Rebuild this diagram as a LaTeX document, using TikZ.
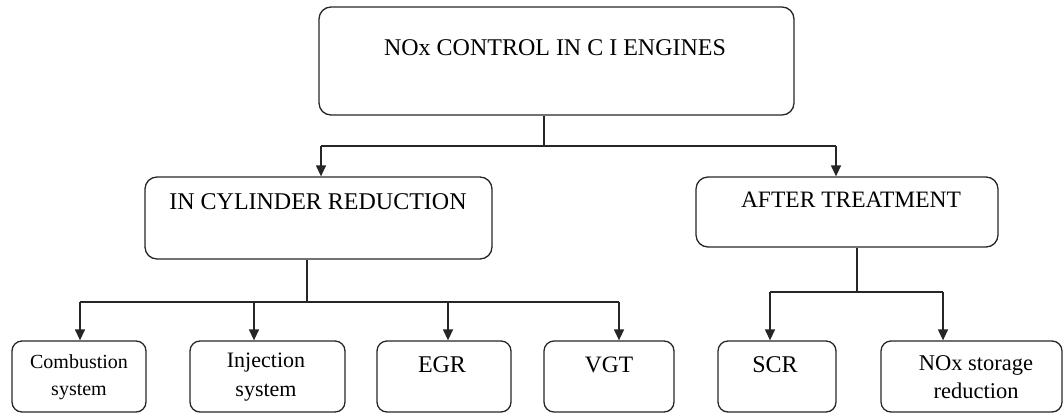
\documentclass[tikz,border=0pt]{standalone}
\usepackage{fontspec}
\setmainfont{Liberation Serif}
\usetikzlibrary{arrows.meta}
\begin{document}
\begin{tikzpicture}[x=1pt,y=-1pt,
  box/.style={draw=black!85,line width=1.3pt,rounded corners=12pt,inner sep=0pt},
  sbox/.style={draw=black!85,line width=1.3pt,rounded corners=10pt,inner sep=0pt,minimum height=71pt},
  txt/.style={inner sep=0pt,text=black,align=center},
  conn/.style={draw=black!85,line width=1.3pt},
  arr/.style={conn,-{Triangle[length=11pt,width=10pt]}}]
\useasboundingbox (0,0) rectangle (1064,415);
% boxes
\node[box,minimum width=475pt,minimum height=108pt] (top) at (556.5,61) {};
\node[box,minimum width=347pt,minimum height=82pt] (icr) at (318.5,218) {};
\node[box,minimum width=302pt,minimum height=70pt] (at) at (847,212) {};
\node[sbox,minimum width=134pt] (comb) at (79,376.5) {};
\node[sbox,minimum width=155pt] (inj) at (267.5,376.5) {};
\node[sbox,minimum width=134pt] (egr) at (444,376.5) {};
\node[sbox,minimum width=130pt] (vgt) at (609,376.5) {};
\node[sbox,minimum width=118pt] (scr) at (777,376.5) {};
\node[sbox,minimum width=181pt] (nsr) at (971.5,376.5) {};
% texts
\node[txt,font=\fontsize{24}{28}\selectfont] (ttop) at (555,48) {NOx CONTROL IN C I ENGINES};
\node[txt,font=\fontsize{24}{28}\selectfont] (ticr) at (318,202) {IN CYLINDER REDUCTION};
\node[txt,font=\fontsize{23.5}{28}\selectfont] (tat) at (851,200) {AFTER TREATMENT};
\node[txt,font=\fontsize{20}{27}\selectfont] (tcomb) at (79,377) {Combustion\\system};
\node[txt,font=\fontsize{22}{28.5}\selectfont] (tinj) at (266,377) {Injection\\system};
\node[txt,font=\fontsize{24}{28}\selectfont] (tegr) at (442,365) {EGR};
\node[txt,font=\fontsize{23.5}{28}\selectfont] (tvgt) at (609,365) {VGT};
\node[txt,font=\fontsize{24}{28}\selectfont] (tscr) at (775,365) {SCR};
\node[txt,font=\fontsize{22.5}{28.5}\selectfont] (tnsr) at (976,377) {NOx storage\\reduction};
% junctions
\coordinate (j0) at (544,146);
\coordinate (jl) at (321,146);
\coordinate (jr) at (836,146);
\coordinate (k0) at (307,302);
\coordinate (k1) at (80,302);
\coordinate (k2) at (254,302);
\coordinate (k3) at (448,302);
\coordinate (k4) at (619,302);
\coordinate (m0) at (857,292);
\coordinate (m1) at (770,292);
\coordinate (m2) at (943,292);
% connectors
\draw[conn] (top.south -| j0) -- (j0);
\draw[conn] (jl) -- (jr);
\draw[arr] (jl) -- (jl |- icr.north);
\draw[arr] (jr) -- (jr |- at.north);
\draw[conn] (icr.south -| k0) -- (k0);
\draw[conn] (k1) -- (k4);
\draw[arr] (k1) -- (k1 |- comb.north);
\draw[arr] (k2) -- (k2 |- inj.north);
\draw[arr] (k3) -- (k3 |- egr.north);
\draw[arr] (k4) -- (k4 |- vgt.north);
\draw[conn] (at.south -| m0) -- (m0);
\draw[conn] (m1) -- (m2);
\draw[arr] (m1) -- (m1 |- scr.north);
\draw[arr] (m2) -- (m2 |- nsr.north);
\end{tikzpicture}
\end{document}
